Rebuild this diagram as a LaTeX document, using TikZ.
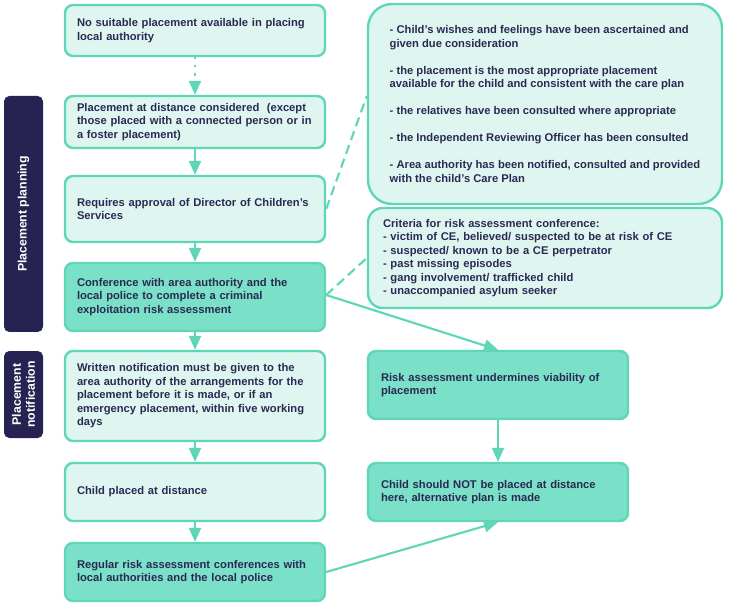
\documentclass[tikz,border=0pt]{standalone}
\usepackage{fontspec}
\setmainfont{Liberation Sans}
\usetikzlibrary{arrows.meta}
\hyphenpenalty=10000
\exhyphenpenalty=10000
\definecolor{mint}{RGB}{94,214,183}
\definecolor{lightmint}{RGB}{222,246,239}
\definecolor{darkmint}{RGB}{122,224,200}
\definecolor{navytext}{RGB}{44,40,84}
\definecolor{navyfill}{RGB}{38,35,82}
\newcommand{\boxfont}{\fontsize{8.4pt}{10.1pt}\selectfont\bfseries}
\tikzset{
  box/.style={draw=mint, line width=1.8pt, rounded corners=6pt, fill=lightmint,
    text=navytext, font=\boxfont, align=left, inner xsep=9pt, inner ysep=2pt,
    text width=177pt},
  darkbox/.style={box, fill=darkmint},
  sidelabel/.style={fill=navyfill, rounded corners=4pt, text=white, rotate=90,
    font=\fontsize{9.2pt}{10.6pt}\selectfont\bfseries, align=center, inner sep=2pt,
    minimum height=29.25pt},
  flow/.style={draw=mint, line width=1.6pt, -{Triangle[length=10.5pt,width=9pt]}},
  dotflow/.style={flow, dash pattern=on 1.6pt off 4.5pt},
  dashlink/.style={draw=mint, line width=1.6pt, dash pattern=on 7pt off 4pt}
}
\begin{document}
\begin{tikzpicture}[x=0.75pt,y=-0.75pt]
\useasboundingbox (0,0) rectangle (729,606);
% side labels
\node[sidelabel, minimum width=177pt] (sp) at (23.5,214) {Placement planning};
\node[sidelabel, minimum width=65.25pt] (sn) at (23.5,394.5) {Placement\\notification};
% left column
\node[box, minimum height=38.25pt] (b1) at (195,30.5) {No suitable placement available in placing\\local authority};
\node[box, minimum height=39pt] (b2) at (195,122) {Placement at distance considered\ \ (except\\those placed with a connected person or in\\a foster placement)};
\node[box, minimum height=49.5pt] (b3) at (195,209) {Requires approval of Director of Children’s\\Services};
\node[darkbox, minimum height=51pt] (b4) at (195,297) {Conference with area authority and the\\local police to complete a criminal\\exploitation risk assessment};
\node[box, minimum height=67.5pt] (b5) at (195,396) {Written notification must be given to the\\area authority of the arrangements for the\\placement before it is made, or if an\\emergency placement, within five working\\days};
\node[box, minimum height=43.5pt] (b6) at (195,492) {Child placed at distance};
\node[darkbox, minimum height=43.5pt] (b7) at (195,572) {Regular risk assessment conferences with\\local authorities and the local police};
% right column
\node[box, text width=, rounded corners=18pt, inner xsep=0pt, minimum width=265.5pt, minimum height=150pt] (r1) at (545,104) {- Child’s wishes and feelings have been ascertained and\\given due consideration\\[10.1pt]- the placement is the most appropriate placement\\available for the child and consistent with the care plan\\[10.1pt]- the relatives have been consulted where appropriate\\[10.1pt]- the Independent Reviewing Officer has been consulted\\[10.1pt]- Area authority has been notified, consulted and provided\\with the child’s Care Plan};
\node[box, rounded corners=11pt, inner xsep=11.25pt, text width=243pt, minimum height=75pt] (r2) at (545,258) {Criteria for risk assessment conference:\\- victim of CE, believed/ suspected to be at risk of CE\\- suspected/ known to be a CE perpetrator\\- past missing episodes\\- gang involvement/ trafficked child\\- unaccompanied asylum seeker};
\node[darkbox, inner xsep=9.75pt, text width=175.5pt, minimum height=51pt] (r3) at (498,385) {Risk assessment undermines viability of\\placement};
\node[darkbox, inner xsep=9.75pt, text width=175.5pt, minimum height=43.5pt] (r4) at (498,492) {Child should NOT be placed at distance\\here, alternative plan is made};
% connectors
\draw[dotflow] (b1) -- (b2);
\draw[flow] (b2) -- (b3);
\draw[flow] (b3) -- (b4);
\draw[flow] (b4) -- (b5);
\draw[flow] (b5) -- (b6);
\draw[flow] (b6) -- (b7);
\draw[dashlink] (b3.east) -- ([yshift=6pt]r1.west);
\draw[dashlink] ([yshift=1.5pt]b4.east) -- (r2.west);
\draw[flow] ([yshift=1.5pt]b4.east) -- (r3.north);
\draw[flow] (r3) -- (r4);
\draw[flow] (b7.east) -- (r4.south);
\end{tikzpicture}
\end{document}
